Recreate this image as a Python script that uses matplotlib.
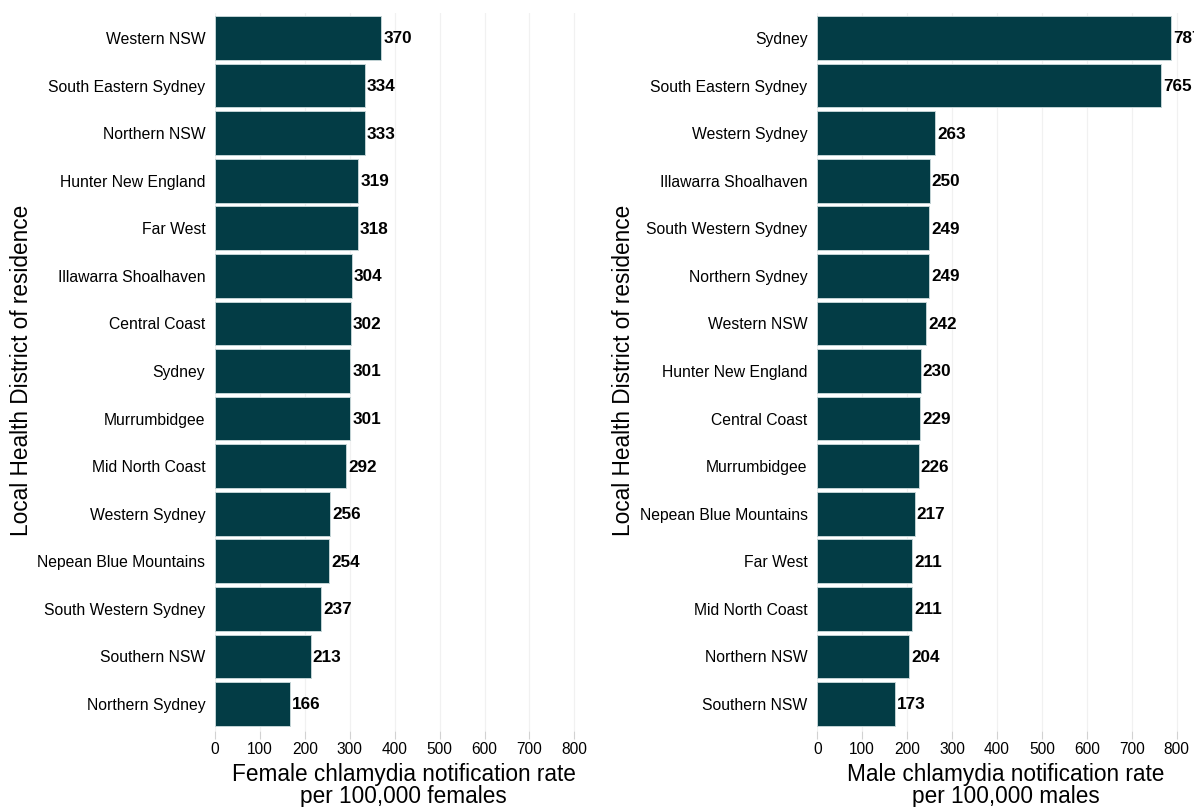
import matplotlib
matplotlib.use("Agg")
import matplotlib.pyplot as plt

# Female rates by Local Health District (sorted, highest first)
female_districts = [
    "Western NSW", "South Eastern Sydney", "Northern NSW", "Hunter New England",
    "Far West", "Illawarra Shoalhaven", "Central Coast", "Sydney",
    "Murrumbidgee", "Mid North Coast", "Western Sydney", "Nepean Blue Mountains",
    "South Western Sydney", "Southern NSW", "Northern Sydney",
]
female_rates = [370, 334, 333, 319, 318, 304, 302, 301, 301, 292, 256, 254, 237, 213, 166]

# Male rates by Local Health District (sorted, highest first)
male_districts = [
    "Sydney", "South Eastern Sydney", "Western Sydney", "Illawarra Shoalhaven",
    "South Western Sydney", "Northern Sydney", "Western NSW", "Hunter New England",
    "Central Coast", "Murrumbidgee", "Nepean Blue Mountains", "Far West",
    "Mid North Coast", "Northern NSW", "Southern NSW",
]
male_rates = [787, 765, 263, 250, 249, 249, 242, 230, 229, 226, 217, 211, 211, 204, 173]

x_ticks = [0, 100, 200, 300, 400, 500, 600, 700, 800]
y_title = "Local Health District of residence"
female_title = "Female chlamydia notification rate\nper 100,000 females"
male_title = "Male chlamydia notification rate\nper 100,000 males"

BAR = "#033c45"
EDGE = "#c3d3d5"
GRID = "#f1f1f1"
FONT = "Liberation Sans"

W, H = 1194, 807
fig = plt.figure(figsize=(W / 100, H / 100), dpi=100)
fig.patch.set_facecolor("white")

x_max = 840
px_per_unit = 0.4492
ax_top, ax_bot = 13, 731


def make_axes(left_px):
    width_px = x_max * px_per_unit
    return fig.add_axes([left_px / W, 1 - ax_bot / H, width_px / W, (ax_bot - ax_top) / H])


def draw(ax, names, values, xtitle, ylabel_x):
    n = len(names)
    pos = list(range(n))
    ax.barh(pos, values, height=0.92, color=BAR, edgecolor=EDGE, linewidth=0.7, zorder=3)
    for p, v in zip(pos, values):
        ax.text(v + 4.5, p + 0.02, f"{v}", va="center", ha="left", fontsize=12.3,
                fontweight="bold", family=FONT, color="black", zorder=4, clip_on=False)
    ax.set_xlim(0, x_max)
    spacing_px = 47.57
    top_pad = (38 - ax_top) / spacing_px
    bot_pad = (ax_bot - 704) / spacing_px
    ax.set_ylim(n - 1 + bot_pad, -top_pad)
    ax.set_yticks(pos)
    ax.set_yticklabels(names, fontsize=11.3, family=FONT)
    ax.set_xticks(x_ticks)
    ax.set_xticklabels([str(t) for t in x_ticks], fontsize=11.2, family=FONT)
    ax.tick_params(axis="y", length=0, pad=7)
    ax.tick_params(axis="x", length=6, width=0.8, color="#d2d2d2", pad=2)
    for s in ax.spines.values():
        s.set_visible(False)
    ax.grid(axis="x", color=GRID, linewidth=0.9, zorder=0)
    ax.set_axisbelow(True)
    ax.set_xlabel(xtitle, fontsize=16.3, family=FONT, linespacing=0.97, labelpad=4)
    fig.text(ylabel_x / W, 1 - 370 / H, y_title, rotation=90, fontsize=16.3,
             family=FONT, ha="center", va="center")


ax1 = make_axes(215)
draw(ax1, female_districts, female_rates, female_title, 22)
ax2 = make_axes(817.3)
draw(ax2, male_districts, male_rates, male_title, 624)

fig.savefig("out.png", dpi=100, facecolor="white")
